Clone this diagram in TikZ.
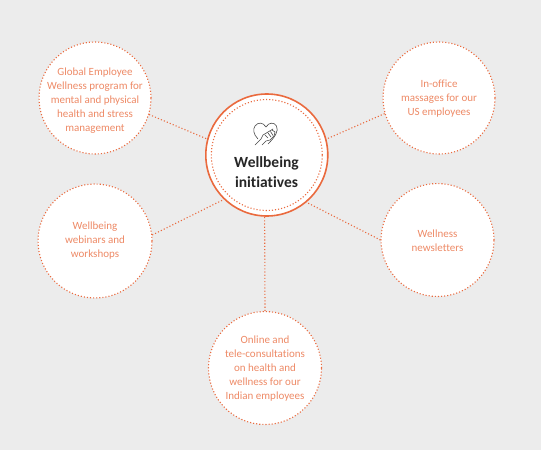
\documentclass[tikz,border=0pt]{standalone}
\usepackage{fontspec}
\setmainfont[RawFeature={-liga;-clig}]{Carlito}
\definecolor{bg}{HTML}{ECECEC}
\definecolor{org}{HTML}{EA6A3E}
\definecolor{txt}{HTML}{EE8A66}
\definecolor{ink}{HTML}{262626}
\tikzset{
 sat/.style={circle,fill=white,draw=org,line width=1.1pt,dash pattern=on 1.1pt off 2pt,minimum size=#1,inner sep=0pt},
 sattext/.style={align=center,text=txt,inner sep=0pt,font=\fontsize{11}{14}\selectfont},
 link/.style={draw=org,line width=1.1pt,dash pattern=on 1.1pt off 2.1pt},
 hub/.style={circle,fill=white,draw=org,line width=1.6pt,minimum size=122pt,inner sep=0pt},
 hubin/.style={circle,draw=org,line width=1.1pt,dash pattern=on 1.1pt off 2pt,minimum size=111pt,inner sep=0pt},
 glyph/.style={draw=ink!85,line width=0.6pt,line cap=round,line join=round}
}
\begin{document}
\begin{tikzpicture}[x=1pt,y=-1pt]
\useasboundingbox (0,0) rectangle (541,450);
\fill[bg] (0,0) rectangle (541,450);
\node[sat=112pt] (a) at (95,98) {};
\node[sat=112pt] (b) at (439,98) {};
\node[sat=113pt] (c) at (437.5,240) {};
\node[sat=114pt] (d) at (95,241) {};
\node[sat=113pt] (e) at (265,368) {};
\node[hub] (hub) at (266.8,155) {};
\node[hubin] (hubring) at (266.8,155) {};
\node[font=\fontsize{15.5}{20.5}\selectfont\bfseries,text=ink,align=center] (title) at (266.5,172) {Wellbeing\\initiatives};
\node[sattext] (at) at (95,101) {Global Employee\\Wellness program for\\mental and physical\\health and stress\\management};
\node[sattext] (bt) at (439,98.5) {In-office\\massages for our\\US employees};
\node[sattext] (ct) at (437.5,240.5) {Wellness\\newsletters};
\node[sattext] (dt) at (95,240.5) {Wellbeing\\webinars and\\workshops};
\node[sattext] (et) at (265,368.5) {Online and\\tele-consultations\\on health and\\wellness for our\\Indian employees};
\draw[link] (a.-17) -- (hub.165);
\draw[link] (b.196) -- (hub.15);
\draw[link] (c.180) -- (hub.-50);
\draw[link] (d.6) -- (hub.226);
\draw[link] (e.north) -- (hub.-92);
% heart-and-hand icon
\draw[glyph] (258,139) .. controls (253,134) and (253,129) .. (255,126) .. controls (258,122) and (263,122) .. (266,127) .. controls (269,122) and (274,122) .. (276.5,126) .. controls (279,131) and (275,137) .. (268,144);
\draw[glyph] (255,145) -- (261,139) -- (263,135) -- (268,132) -- (273,129);
\draw[glyph] (262,145) -- (266,141) -- (270,140) -- (274,136) -- (275,132) -- (272,130);
\draw[glyph] (265,135) -- (268,138) (268,133) -- (271,137) (270.5,131.5) -- (273,135.5);
\end{tikzpicture}
\end{document}
